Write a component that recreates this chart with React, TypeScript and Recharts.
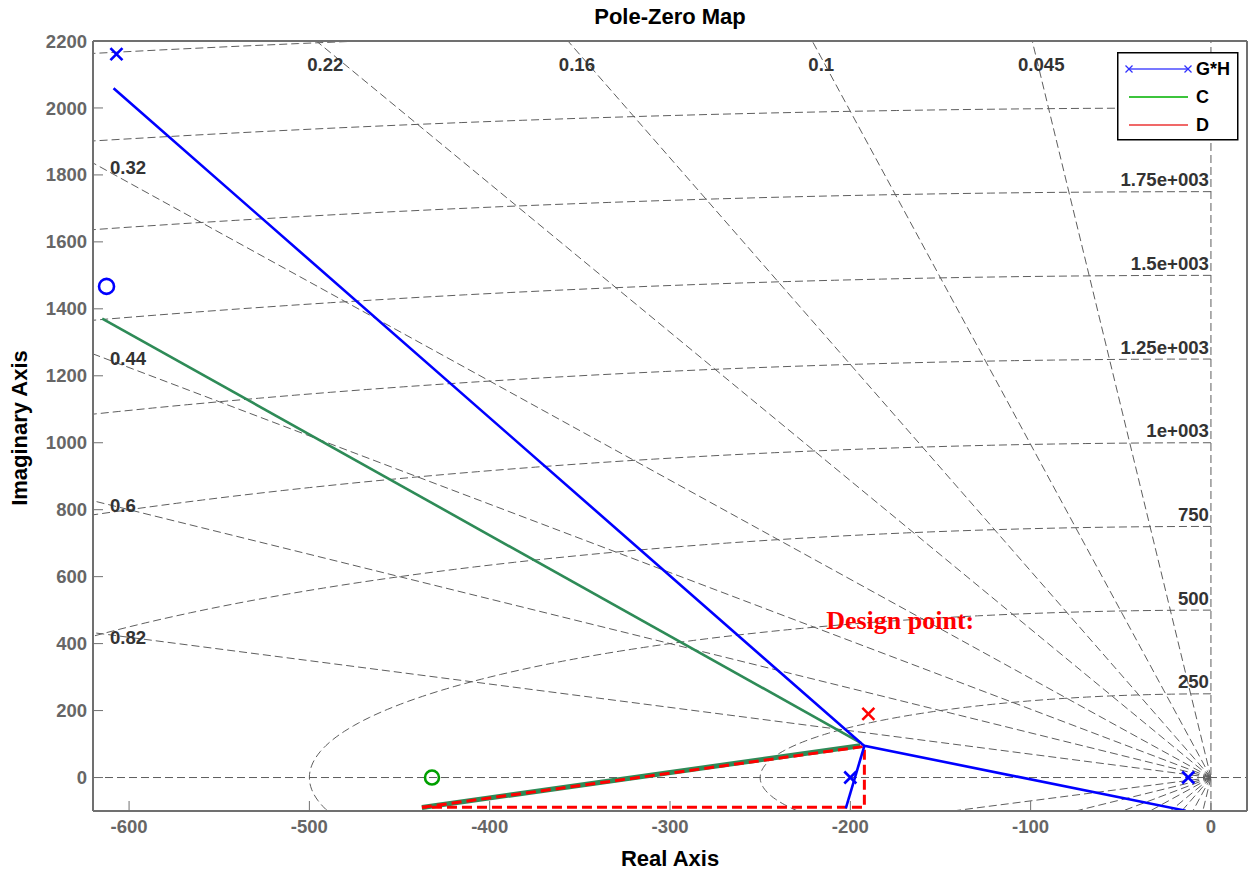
import React from 'react';
import { ComposedChart, Line, Scatter, XAxis, YAxis, ReferenceLine } from 'recharts';

// axes
const xDomain = [-620, 20];
const yDomain = [-100, 2200];
const xTicks = [-600, -500, -400, -300, -200, -100, 0];
const yTicks = [0, 200, 400, 600, 800, 1000, 1200, 1400, 1600, 1800, 2000, 2200];

// s-plane grid (damping ratios and natural frequencies)
const zetas = [0.045, 0.1, 0.16, 0.22, 0.32, 0.44, 0.6, 0.82];
const zetaLabels = ['0.045', '0.1', '0.16', '0.22', '0.32', '0.44', '0.6', '0.82'];
const wns = [250, 500, 750, 1000, 1250, 1500, 1750, 2000, 2250];
const wnLabels = ['250', '500', '750', '1e+003', '1.25e+003', '1.5e+003', '1.75e+003'];

// poles and zeros
const ghPoles = [{ x: -607, y: 2161 }, { x: -200, y: 0 }, { x: -12.6, y: 0 }];
const ghZeros = [{ x: -612.5, y: 1467 }];
const cZeros = [{ x: -432, y: 0 }];
const dPoles = [{ x: -190, y: 190 }];

// construction lines
const ghLineA = [{ x: -608.6, y: 2058.6 }, { x: -193.5, y: 100 }, { x: -192.2, y: 94.8 }, { x: -14, y: -99 }];
const ghLineB = [{ x: -192.2, y: 94.8 }, { x: -202.5, y: -92 }];
const cLineA = [{ x: -614.9, y: 1371 }, { x: -194, y: 103 }];
const cLineB = [{ x: -437.6, y: -89.5 }, { x: -194.5, y: 95 }];
const dTriangle = [{ x: -437.6, y: -89 }, { x: -192.2, y: 93 }, { x: -192.2, y: -89 }, { x: -437.6, y: -89 }];

const annotations = [{ x: -213.4, y: 444, label: 'Design point:' }];

const FONT = '"Liberation Sans", Arial, Helvetica, sans-serif';
const GRID = '#5e5e5e';
const DASH = '8 4';
const AXIS = '#707070';

const circlePoints = (wn: number) => {
  const pts = [];
  for (let i = 0; i <= 180; i++) {
    const t = Math.PI / 2 + (Math.PI * i) / 180;
    pts.push({ x: wn * Math.cos(t), y: wn * Math.sin(t) });
  }
  return pts;
};

const R = 3000;
const rays = zetas.flatMap(z => {
  const s = Math.sqrt(1 - z * z);
  return [
    [{ x: 0, y: 0 }, { x: -z * R, y: s * R }],
    [{ x: 0, y: 0 }, { x: -z * R, y: -s * R }],
  ];
});

// label anchor where each damping ray leaves the box (top or left edge)
const zetaLabelPts = zetas.map((z, i) => {
  const s = Math.sqrt(1 - z * z);
  const yLeft = (-xDomain[0] * s) / z;
  if (yLeft > yDomain[1]) return { x: (-yDomain[1] * z) / s, y: yDomain[1], label: zetaLabels[i], side: 'top' };
  return { x: xDomain[0], y: yLeft, label: zetaLabels[i], side: 'left' };
});
const wnLabelPts = wnLabels.map((label, i) => ({ x: 0, y: wns[i], label }));

const cross = (color: string, half = 6, sw = 2.6) => (p: any) => (
  <g>
    <line x1={p.cx - half} y1={p.cy - half} x2={p.cx + half} y2={p.cy + half} stroke={color} strokeWidth={sw} />
    <line x1={p.cx - half} y1={p.cy + half} x2={p.cx + half} y2={p.cy - half} stroke={color} strokeWidth={sw} />
  </g>
);
const ring = (color: string, r = 7.5, sw = 2.6) => (p: any) => (
  <circle cx={p.cx} cy={p.cy} r={r} fill="none" stroke={color} strokeWidth={sw} />
);

const zetaText = (p: any) => {
  const d = p.payload;
  const top = d.side === 'top';
  return (
    <text x={p.cx + (top ? 9 : 17)} y={p.cy + (top ? 23 : 5)} textAnchor={top ? 'middle' : 'start'}
      dominantBaseline="central" fontFamily={FONT} fontWeight="bold" fontSize={18.6} fill="#333">
      {d.label}
    </text>
  );
};
const wnText = (p: any) => (
  <text x={p.cx - 2} y={p.cy - 12} textAnchor="end" dominantBaseline="central"
    fontFamily={FONT} fontWeight="bold" fontSize={18.6} fill="#333">
    {p.payload.label}
  </text>
);
const noteText = (p: any) => (
  <text x={p.cx} y={p.cy} textAnchor="start" fontFamily='"Liberation Serif", "Times New Roman", serif'
    fontWeight="bold" fontSize={26} fill="#ff0000">
    {p.payload.label}
  </text>
);

const tickStyle = { fill: '#666', fontSize: 18.5, fontWeight: 'bold', fontFamily: FONT };

const Legend = () => (
  <svg width={122} height={89} style={{ position: 'absolute', left: 1117, top: 52 }}>
    <rect x={0.75} y={0.75} width={120} height={87} fill="#fff" stroke="#000" strokeWidth={1.5} />
    <line x1={12} y1={17} x2={71} y2={17} stroke="#7878ff" strokeWidth={2} />
    {[12, 71].map(cx => (
      <g key={cx}>
        <line x1={cx - 3.5} y1={13.5} x2={cx + 3.5} y2={20.5} stroke="#3030ff" strokeWidth={1.3} />
        <line x1={cx - 3.5} y1={20.5} x2={cx + 3.5} y2={13.5} stroke="#3030ff" strokeWidth={1.3} />
      </g>
    ))}
    <line x1={12} y1={45} x2={71} y2={45} stroke="#3cc43c" strokeWidth={2} />
    <line x1={12} y1={73} x2={71} y2={73} stroke="#f06868" strokeWidth={2} />
    {['G*H', 'C', 'D'].map((t, i) => (
      <text key={t} x={79} y={17 + i * 28} dominantBaseline="central" fontFamily={FONT}
        fontWeight="bold" fontSize={18} fill="#000">{t}</text>
    ))}
  </svg>
);

export default function App() {
  return (
    <div style={{ position: 'absolute', left: 0, top: 0, width: 1249, height: 875, background: '#fff' }}>
      <ComposedChart width={1249} height={875} margin={{ top: 41, right: 2, bottom: 0, left: 0 }}>
        <XAxis type="number" dataKey="x" domain={xDomain} allowDataOverflow ticks={xTicks} interval={0}
          height={64} tickSize={-10} tickMargin={19} tick={tickStyle}
          axisLine={{ stroke: AXIS, strokeWidth: 2 }} tickLine={{ stroke: AXIS }} />
        <YAxis type="number" dataKey="y" domain={yDomain} allowDataOverflow ticks={yTicks} interval={0}
          width={93} tickSize={-10} tickMargin={16} tick={tickStyle}
          axisLine={{ stroke: AXIS, strokeWidth: 2 }} tickLine={{ stroke: AXIS }} />
        <XAxis xAxisId="top" orientation="top" mirror type="number" domain={xDomain} allowDataOverflow
          ticks={xTicks} interval={0} tick={false} tickSize={10}
          axisLine={{ stroke: AXIS, strokeWidth: 2 }} tickLine={{ stroke: AXIS }} />
        <YAxis yAxisId="right" orientation="right" mirror type="number" domain={yDomain} allowDataOverflow
          ticks={yTicks} interval={0} tick={false} tickSize={10}
          axisLine={{ stroke: AXIS, strokeWidth: 2 }} tickLine={{ stroke: AXIS }} />

        <ReferenceLine y={0} stroke={GRID} strokeDasharray={DASH} />
        <ReferenceLine x={0} stroke={GRID} strokeDasharray={DASH} />
        {wns.map(wn => (
          <Line key={'wn' + wn} data={circlePoints(wn)} dataKey="y" type="linear" dot={false}
            stroke={GRID} strokeWidth={1} strokeDasharray={DASH} isAnimationActive={false} />
        ))}
        {rays.map((pts, i) => (
          <Line key={'ray' + i} data={pts} dataKey="y" type="linear" dot={false}
            stroke={GRID} strokeWidth={1} strokeDasharray={DASH} isAnimationActive={false} />
        ))}

        <Line data={cLineA} dataKey="y" type="linear" dot={false} stroke="#2e8b57" strokeWidth={2.6} isAnimationActive={false} />
        <Line data={cLineB} dataKey="y" type="linear" dot={false} stroke="#2e8b57" strokeWidth={5} isAnimationActive={false} />
        <Line data={dTriangle} dataKey="y" type="linear" dot={false} stroke="#ff0000" strokeWidth={3}
          strokeDasharray="10 5" isAnimationActive={false} />
        <Line data={ghLineA} dataKey="y" type="linear" dot={false} stroke="#0000ff" strokeWidth={2.6} isAnimationActive={false} />
        <Line data={ghLineB} dataKey="y" type="linear" dot={false} stroke="#0000ff" strokeWidth={2.6} isAnimationActive={false} />

        <Scatter data={ghPoles} shape={cross('#0000ff')} isAnimationActive={false} />
        <Scatter data={ghZeros} shape={ring('#0000ff')} isAnimationActive={false} />
        <Scatter data={cZeros} shape={ring('#00a000', 7)} isAnimationActive={false} />
        <Scatter data={dPoles} shape={cross('#ff0000')} isAnimationActive={false} />

        <Scatter data={zetaLabelPts} shape={zetaText} isAnimationActive={false} />
        <Scatter data={wnLabelPts} shape={wnText} isAnimationActive={false} />
        <Scatter data={annotations} shape={noteText} isAnimationActive={false} />
      </ComposedChart>

      <div style={{ position: 'absolute', left: 93, width: 1154, top: 6, textAlign: 'center', fontFamily: FONT,
        fontWeight: 'bold', fontSize: 22, lineHeight: '22px', color: '#000' }}>Pole-Zero Map</div>
      <div style={{ position: 'absolute', left: 93, width: 1154, top: 848, textAlign: 'center', fontFamily: FONT,
        fontWeight: 'bold', fontSize: 22, lineHeight: '22px', color: '#000' }}>Real Axis</div>
      <div style={{ position: 'absolute', left: 20, top: 428, transform: 'translate(-50%, -50%) rotate(-90deg)',
        whiteSpace: 'nowrap', fontFamily: FONT, fontWeight: 'bold', fontSize: 22, lineHeight: '22px', color: '#000' }}>
        Imaginary Axis
      </div>
      <Legend />
    </div>
  );
}
